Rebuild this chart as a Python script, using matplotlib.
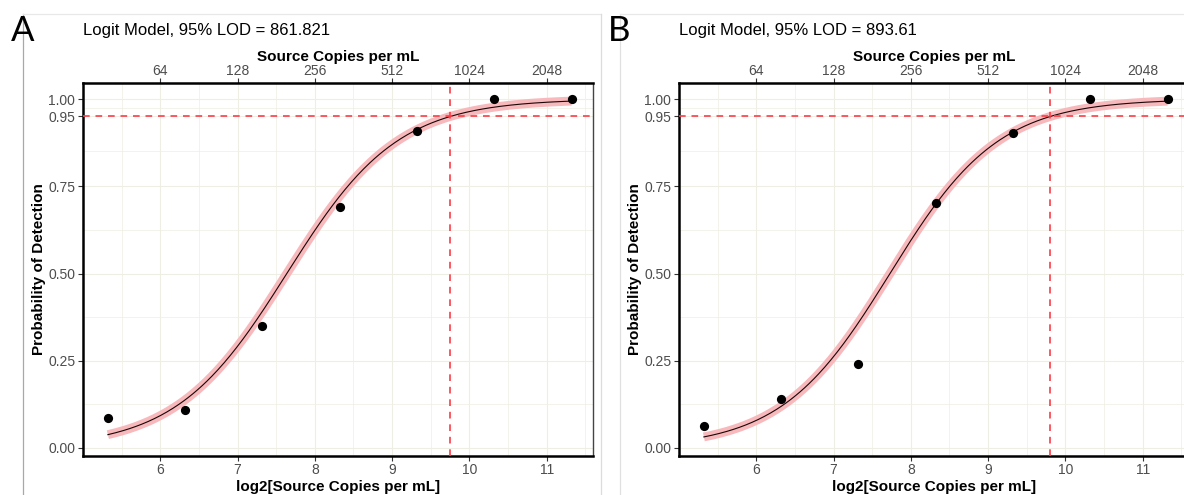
import matplotlib
matplotlib.use("Agg")
import matplotlib.pyplot as plt
from matplotlib.lines import Line2D
import numpy as np

plt.rcParams["font.family"] = ["Liberation Sans", "DejaVu Sans"]

# dilution series (copies per mL) and observed detection rates
copies = [40, 80, 160, 320, 640, 1280, 2560]
det_a = [0.085, 0.108, 0.350, 0.690, 0.909, 1.00, 1.00]
det_b = [0.064, 0.140, 0.241, 0.703, 0.903, 1.00, 1.00]

# logit fit: logit(p) = slope * (log2(x) - x50), anchored at the 95% LOD
lod_a, slope_a = 861.821, 1.393
lod_b, slope_b = 893.61, 1.42

panels = ["A", "B"]
y_ticks = [0.00, 0.25, 0.50, 0.75, 0.95, 1.00]
y_minor = [0.125, 0.375, 0.625, 0.85, 0.975]
x_ticks = [6, 7, 8, 9, 10, 11]
x_minor = [5.5, 6.5, 7.5, 8.5, 9.5, 10.5, 11.5]
top_labels = [64, 128, 256, 512, 1024, 2048]

W, H = 1184, 495
fig = plt.figure(figsize=(W / 100, H / 100), dpi=100)

GRID = "#eeeee4"
RED = "#ff3b45"
TICKC = "#4d4d4d"


def draw(left_px, letter, det, lod, slope):
    ax = fig.add_axes([left_px / W, 1 - 456 / H, 510 / W, 373 / H])
    x = np.log2(copies)
    logit95 = np.log(0.95 / 0.05)
    x50 = np.log2(lod) - logit95 / slope
    xs = np.linspace(x[0], x[-1], 300)
    ps = 1 / (1 + np.exp(-slope * (xs - x50)))

    for v in x_minor:
        ax.axvline(v, color=GRID, lw=0.5, zorder=0)
    for v in y_minor:
        ax.axhline(v, color=GRID, lw=0.5, zorder=0)
    for v in x_ticks:
        ax.axvline(v, color=GRID, lw=0.8, zorder=0)
    for v in y_ticks:
        ax.axhline(v, color=GRID, lw=0.8, zorder=0)

    # fitted curve with its confidence band
    ax.plot(xs, ps, color="#f7b9bc", lw=6.4, solid_capstyle="butt", zorder=2)
    ax.plot(xs, ps, color="#1a0606", lw=0.8, zorder=3)
    ax.axhline(0.95, color=RED, lw=1.2, ls=(0, (4, 3.5)), zorder=4)
    ax.axvline(np.log2(lod), color=RED, lw=1.2, ls=(0, (4, 3.5)), zorder=4)
    ax.scatter(x, det, s=44, color="black", zorder=5, linewidths=0)

    ax.set_xlim(5.0, 11.6)
    ax.set_ylim(-0.023, 1.046)
    ax.set_xticks(x_ticks)
    ax.set_yticks(y_ticks, labels=[f"{v:.2f}" for v in y_ticks])
    ax.tick_params(colors="#333333", labelcolor=TICKC, labelsize=10, length=3.6, width=0.8)
    ax.tick_params(axis="x", pad=1.5)
    ax.tick_params(axis="y", pad=2)
    for s in ["left", "bottom", "top"]:
        ax.spines[s].set_linewidth(1.8)
        ax.spines[s].set_color("black")
    ax.spines["right"].set_linewidth(1.0)
    ax.spines["right"].set_color("#444444")

    sec = ax.secondary_xaxis("top")
    sec.set_xticks(np.log2(top_labels), labels=[str(v) for v in top_labels])
    sec.tick_params(colors="#333333", labelcolor=TICKC, labelsize=10, length=3.6,
                    width=0.8, pad=0)
    sec.spines["top"].set_visible(False)
    sec.set_xlabel("Source Copies per mL", fontsize=11, fontweight="bold", labelpad=2)

    ax.set_xlabel("log2[Source Copies per mL]", fontsize=11, fontweight="bold", labelpad=2)
    ax.set_ylabel("Probability of Detection", fontsize=11, fontweight="bold", labelpad=1.8)

    fig.text(left_px / W, 1 - 30 / H, f"Logit Model, 95% LOD = {lod}", fontsize=12,
             va="center", ha="left")
    fig.text((left_px - 60) / W, 1 - 31 / H, letter, fontsize=25, family="Lato",
             va="center", ha="center")
    return ax


draw(83, panels[0], det_a, lod_a, slope_a)
draw(679, panels[1], det_b, lod_b, slope_b)

# panel frames
for xs_, ys_, c in [([23, 23], [14, 495], "#a8a8a8"),
                    ([23, 601], [14, 14], "#e8e8e8"),
                    ([601, 601], [14, 495], "#dcdcdc"),
                    ([620, 620], [14, 495], "#e0e0e0"),
                    ([620, 1184], [14, 14], "#e8e8e8")]:
    fig.add_artist(Line2D([v / W for v in xs_], [1 - v / H for v in ys_],
                          transform=fig.transFigure, color=c, lw=0.9))

fig.savefig("out.png", dpi=100)
